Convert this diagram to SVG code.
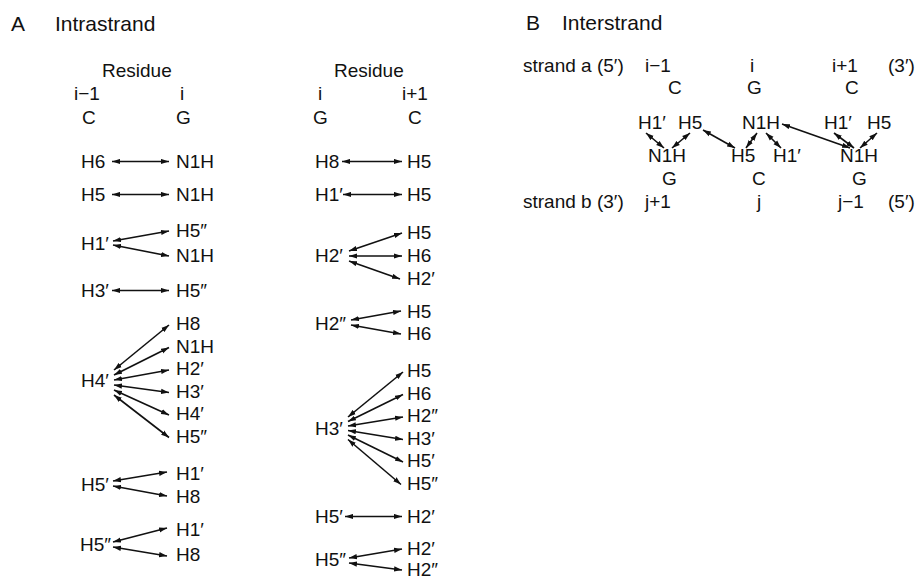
<svg xmlns="http://www.w3.org/2000/svg" width="920" height="582" viewBox="0 0 920 582">
  <style>
    text { font-family: "Liberation Sans", "DejaVu Sans", sans-serif; font-size: 19px; fill: #111; }
    .title { font-size: 21px; }
    .c { stroke: #111; stroke-width: 1.6; fill: none; marker-start: url(#ah); marker-end: url(#ah); }
  </style>
  <defs>
    <marker id="ah" viewBox="0 0 8 6" refX="8" refY="3" markerWidth="8" markerHeight="6" markerUnits="userSpaceOnUse" orient="auto-start-reverse">
      <path d="M0,0.4 L8,3 L0,5.6 z" fill="#111"/>
    </marker>
  </defs>
  <rect width="920" height="582" fill="#fff"/>

  <!-- Panel A: intrastrand -->
  <g id="titleA"><text class="title" x="11" y="31">A</text><text class="title" x="55" y="31">Intrastrand</text></g>

  <!-- left pair: residues i-1 (C) and i (G) -->
  <g id="a1-header">
    <text x="102" y="77">Residue</text>
    <text x="74" y="100">i−1</text><text x="180" y="100">i</text>
    <text x="82" y="124">C</text><text x="176" y="124">G</text>
  </g>
  <g id="a1-h6"><text x="81" y="168">H6</text></g>
  <g id="a1-n1h-1"><text x="176" y="168">N1H</text></g>
  <g id="a1-h5"><text x="81" y="201">H5</text></g>
  <g id="a1-n1h-2"><text x="176" y="201">N1H</text></g>
  <g id="a1-h1p"><text x="81" y="250">H1′</text></g>
  <g id="a1-h5pp-1"><text x="176" y="237">H5″</text></g>
  <g id="a1-n1h-3"><text x="176" y="262">N1H</text></g>
  <g id="a1-h3p"><text x="81" y="297">H3′</text></g>
  <g id="a1-h5pp-2"><text x="176" y="297">H5″</text></g>
  <g id="a1-h4p"><text x="81" y="387">H4′</text></g>
  <g id="a1-fan-h4p">
    <text x="176" y="330">H8</text>
    <text x="176" y="352.5">N1H</text>
    <text x="176" y="375">H2′</text>
    <text x="176" y="397.5">H3′</text>
    <text x="176" y="420">H4′</text>
    <text x="176" y="442.5">H5″</text>
  </g>
  <g id="a1-h5p"><text x="81" y="491">H5′</text></g>
  <g id="a1-h5p-t"><text x="176" y="480">H1′</text><text x="176" y="503">H8</text></g>
  <g id="a1-h5pp"><text x="80" y="551">H5″</text></g>
  <g id="a1-h5pp-t"><text x="176" y="536">H1′</text><text x="176" y="561">H8</text></g>

  <!-- right pair: residues i (G) and i+1 (C) -->
  <g id="a2-header">
    <text x="334" y="77">Residue</text>
    <text x="318" y="100">i</text><text x="402" y="100">i+1</text>
    <text x="313" y="124">G</text><text x="408" y="124">C</text>
  </g>
  <g id="a2-h8"><text x="315" y="168">H8</text></g>
  <g id="a2-h5-1"><text x="407" y="168">H5</text></g>
  <g id="a2-h1p"><text x="315" y="201">H1′</text></g>
  <g id="a2-h5-2"><text x="407" y="201">H5</text></g>
  <g id="a2-h2p"><text x="315" y="262">H2′</text></g>
  <g id="a2-h2p-t"><text x="407" y="239">H5</text><text x="407" y="262">H6</text><text x="407" y="285">H2′</text></g>
  <g id="a2-h2pp"><text x="315" y="330">H2″</text></g>
  <g id="a2-h2pp-t"><text x="407" y="318">H5</text><text x="407" y="340">H6</text></g>
  <g id="a2-h3p"><text x="315" y="435">H3′</text></g>
  <g id="a2-fan-h3p">
    <text x="407" y="377">H5</text>
    <text x="407" y="399.5">H6</text>
    <text x="407" y="422">H2″</text>
    <text x="407" y="444.5">H3′</text>
    <text x="407" y="467">H5′</text>
    <text x="407" y="489.5">H5″</text>
  </g>
  <g id="a2-h5p"><text x="315" y="523">H5′</text></g>
  <g id="a2-h2p-2"><text x="407" y="523">H2′</text></g>
  <g id="a2-h5pp"><text x="315" y="566">H5″</text></g>
  <g id="a2-h5pp-t"><text x="407" y="555">H2′</text><text x="407" y="576">H2″</text></g>

  <!-- Panel B: interstrand -->
  <g id="titleB"><text class="title" x="526" y="30">B</text><text class="title" x="562" y="30">Interstrand</text></g>
  <g id="b-strand-a">
    <text x="523" y="72">strand a (5′)</text>
    <text x="645" y="72">i−1</text><text x="750" y="72">i</text><text x="832" y="72">i+1</text><text x="888" y="72">(3′)</text>
    <text x="668" y="94">C</text><text x="747" y="94">G</text><text x="845" y="94">C</text>
  </g>
  <g id="b-top">
    <text x="638" y="129">H1′</text>
    <text x="678" y="129">H5</text>
    <text x="742" y="129">N1H</text>
    <text x="824" y="129">H1′</text>
    <text x="867" y="129">H5</text>
  </g>
  <g id="b-bottom">
    <text x="648" y="162">N1H</text>
    <text x="731" y="162">H5</text>
    <text x="773" y="162">H1′</text>
    <text x="840" y="162">N1H</text>
  </g>
  <g id="b-strand-b">
    <text x="662" y="185">G</text><text x="752" y="185">C</text><text x="852" y="185">G</text>
    <text x="523" y="208">strand b (3′)</text>
    <text x="645" y="208">j+1</text><text x="757" y="208">j</text><text x="838" y="208">j−1</text><text x="888" y="208">(5′)</text>
  </g>

  <!-- connectors: every NOE contact drawn with heads at both ends -->
  <g id="connectors">
    <!-- A, left pair -->
    <line class="c" x1="112" y1="161.5" x2="169" y2="161.5"/>
    <line class="c" x1="112" y1="194.5" x2="169" y2="194.5"/>
    <line class="c" x1="113" y1="241" x2="169" y2="231"/>
    <line class="c" x1="113" y1="245" x2="169" y2="256"/>
    <line class="c" x1="112" y1="290.5" x2="169" y2="290.5"/>
    <line class="c" x1="114" y1="370" x2="169" y2="325"/>
    <line class="c" x1="114" y1="375" x2="169" y2="347.5"/>
    <line class="c" x1="114" y1="380" x2="169" y2="370"/>
    <line class="c" x1="114" y1="385" x2="169" y2="392.5"/>
    <line class="c" x1="114" y1="390" x2="169" y2="415"/>
    <line class="c" x1="114" y1="395" x2="169" y2="437.5"/>
    <line class="c" x1="113" y1="481" x2="167" y2="472"/>
    <line class="c" x1="113" y1="486" x2="167" y2="496"/>
    <line class="c" x1="113" y1="542" x2="167" y2="528"/>
    <line class="c" x1="113" y1="547" x2="167" y2="556"/>
    <!-- A, right pair -->
    <line class="c" x1="342" y1="161.5" x2="402" y2="161.5"/>
    <line class="c" x1="343" y1="194.5" x2="402" y2="194.5"/>
    <line class="c" x1="349" y1="251" x2="402" y2="233"/>
    <line class="c" x1="349" y1="256" x2="402" y2="256"/>
    <line class="c" x1="349" y1="261" x2="400" y2="279"/>
    <line class="c" x1="351" y1="320" x2="401" y2="311"/>
    <line class="c" x1="351" y1="325" x2="401" y2="334"/>
    <line class="c" x1="348" y1="417" x2="403" y2="372"/>
    <line class="c" x1="348" y1="421.5" x2="403" y2="394.5"/>
    <line class="c" x1="348" y1="426" x2="403" y2="417"/>
    <line class="c" x1="348" y1="430.5" x2="403" y2="439.5"/>
    <line class="c" x1="348" y1="435" x2="403" y2="462"/>
    <line class="c" x1="348" y1="439.5" x2="401" y2="484.5"/>
    <line class="c" x1="345" y1="516.5" x2="402" y2="516.5"/>
    <line class="c" x1="349" y1="558" x2="402" y2="549"/>
    <line class="c" x1="349" y1="563" x2="402" y2="570"/>
    <!-- B -->
    <line class="c" x1="646" y1="133" x2="664" y2="148"/>
    <line class="c" x1="690" y1="133" x2="672" y2="148"/>
    <line class="c" x1="703" y1="130" x2="735" y2="148"/>
    <line class="c" x1="757" y1="133" x2="746" y2="148"/>
    <line class="c" x1="766" y1="133" x2="781" y2="148"/>
    <line class="c" x1="782" y1="124" x2="850" y2="148"/>
    <line class="c" x1="834" y1="133" x2="854" y2="148"/>
    <line class="c" x1="877" y1="133" x2="860" y2="148"/>
  </g>
</svg>
